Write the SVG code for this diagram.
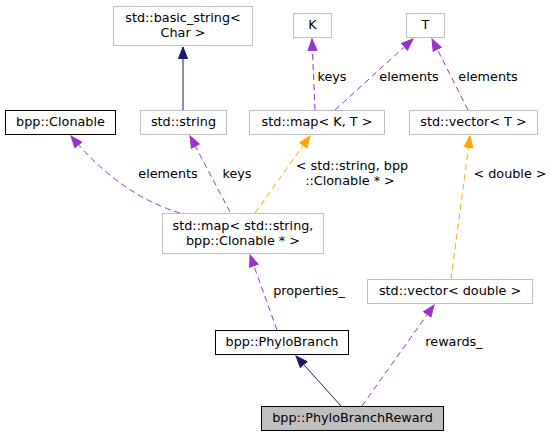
<svg xmlns="http://www.w3.org/2000/svg" width="553" height="437" viewBox="0 0 553 437">
<style>
.n rect{fill:#fff;stroke:#bfbfbf;stroke-width:1}
.n.b rect{stroke:#000}
.n.g rect{fill:#bfbfbf;stroke:#000}
text{font-family:"DejaVu Sans",sans-serif;font-size:12.8px;fill:#000}
.n text{text-anchor:middle}
.e{fill:none;stroke-width:1}
.p{stroke:#9a32cd;stroke-dasharray:6,4}
.o{stroke:#ffa500;stroke-dasharray:6,4}
.v{stroke:#191970}
.lbl{text-anchor:middle}
</style>
<defs>
<marker id="ap" markerUnits="userSpaceOnUse" markerWidth="13" markerHeight="11" refX="12" refY="5.5" orient="auto"><path d="M0.5,1 L12,5.5 L0.5,10 z" fill="#9a32cd" stroke="#9a32cd"/></marker>
<marker id="ao" markerUnits="userSpaceOnUse" markerWidth="13" markerHeight="11" refX="12" refY="5.5" orient="auto"><path d="M0.5,1 L12,5.5 L0.5,10 z" fill="#ffa500" stroke="#ffa500"/></marker>
<marker id="av" markerUnits="userSpaceOnUse" markerWidth="13" markerHeight="11" refX="12" refY="5.5" orient="auto"><path d="M0.5,1 L12,5.5 L0.5,10 z" fill="#191970" stroke="#191970"/></marker>
</defs>
<rect width="553" height="437" fill="#fff"/>
<g id="edges">
<path class="e v" d="M183,110 L183,47" marker-end="url(#av)"/>
<path class="e p" d="M180,213 Q120,195 71,136" marker-end="url(#ap)"/>
<path class="e p" d="M230,212 L190,136" marker-end="url(#ap)"/>
<path class="e o" d="M255,213 L310,136" marker-end="url(#ao)"/>
<path class="e p" d="M315,110 L312,39" marker-end="url(#ap)"/>
<path class="e p" d="M335,110 L413,39" marker-end="url(#ap)"/>
<path class="e p" d="M468,110 L432,39" marker-end="url(#ap)"/>
<path class="e o" d="M451,279 L470,136" marker-end="url(#ao)"/>
<path class="e p" d="M277,330 L250,255" marker-end="url(#ap)"/>
<path class="e v" d="M341,406 L296,356" marker-end="url(#av)"/>
<path class="e p" d="M362,406 L434,305" marker-end="url(#ap)"/>
<text class="lbl" x="168" y="178">elements</text>
<text class="lbl" x="237" y="178">keys</text>
<text class="lbl" x="352" y="170">&lt; std::string, bpp</text>
<text class="lbl" x="350" y="185">::Clonable * &gt;</text>
<text class="lbl" x="332" y="81">keys</text>
<text class="lbl" x="409" y="81">elements</text>
<text class="lbl" x="488" y="81">elements</text>
<text class="lbl" x="510" y="178">&lt; double &gt;</text>
<text class="lbl" x="309" y="295">properties_</text>
<text class="lbl" x="454" y="346">rewards_</text>
</g>
<g id="basic_string" class="n"><rect x="113.5" y="6.5" width="139" height="39"/><text x="183" y="22">std::basic_string&lt;</text><text x="183" y="37">Char &gt;</text></g>
<g id="clonable" class="n b"><rect x="5.5" y="110.5" width="110" height="24"/><text x="60.5" y="126">bpp::Clonable</text></g>
<g id="string" class="n"><rect x="140.5" y="110.5" width="86" height="24"/><text x="183.5" y="126">std::string</text></g>
<g id="K" class="n"><rect x="293.5" y="13.5" width="38" height="24"/><text x="312.5" y="29">K</text></g>
<g id="T" class="n"><rect x="406.5" y="13.5" width="38" height="24"/><text x="425.5" y="29">T</text></g>
<g id="mapKT" class="n"><rect x="249.5" y="110.5" width="135" height="24"/><text x="317" y="126">std::map&lt; K, T &gt;</text></g>
<g id="vectorT" class="n"><rect x="409.5" y="110.5" width="128" height="24"/><text x="473.5" y="126">std::vector&lt; T &gt;</text></g>
<g id="mapSC" class="n"><rect x="162.5" y="213.5" width="161" height="40"/><text x="243" y="230">std::map&lt; std::string,</text><text x="243" y="245">bpp::Clonable * &gt;</text></g>
<g id="vectorD" class="n"><rect x="367.5" y="279.5" width="165" height="24"/><text x="450" y="295">std::vector&lt; double &gt;</text></g>
<g id="phylobranch" class="n b"><rect x="215.5" y="330.5" width="133" height="24"/><text x="282" y="346">bpp::PhyloBranch</text></g>
<g id="reward" class="n g"><rect x="261.5" y="406.5" width="182" height="24"/><text x="352.5" y="422">bpp::PhyloBranchReward</text></g>
</svg>
